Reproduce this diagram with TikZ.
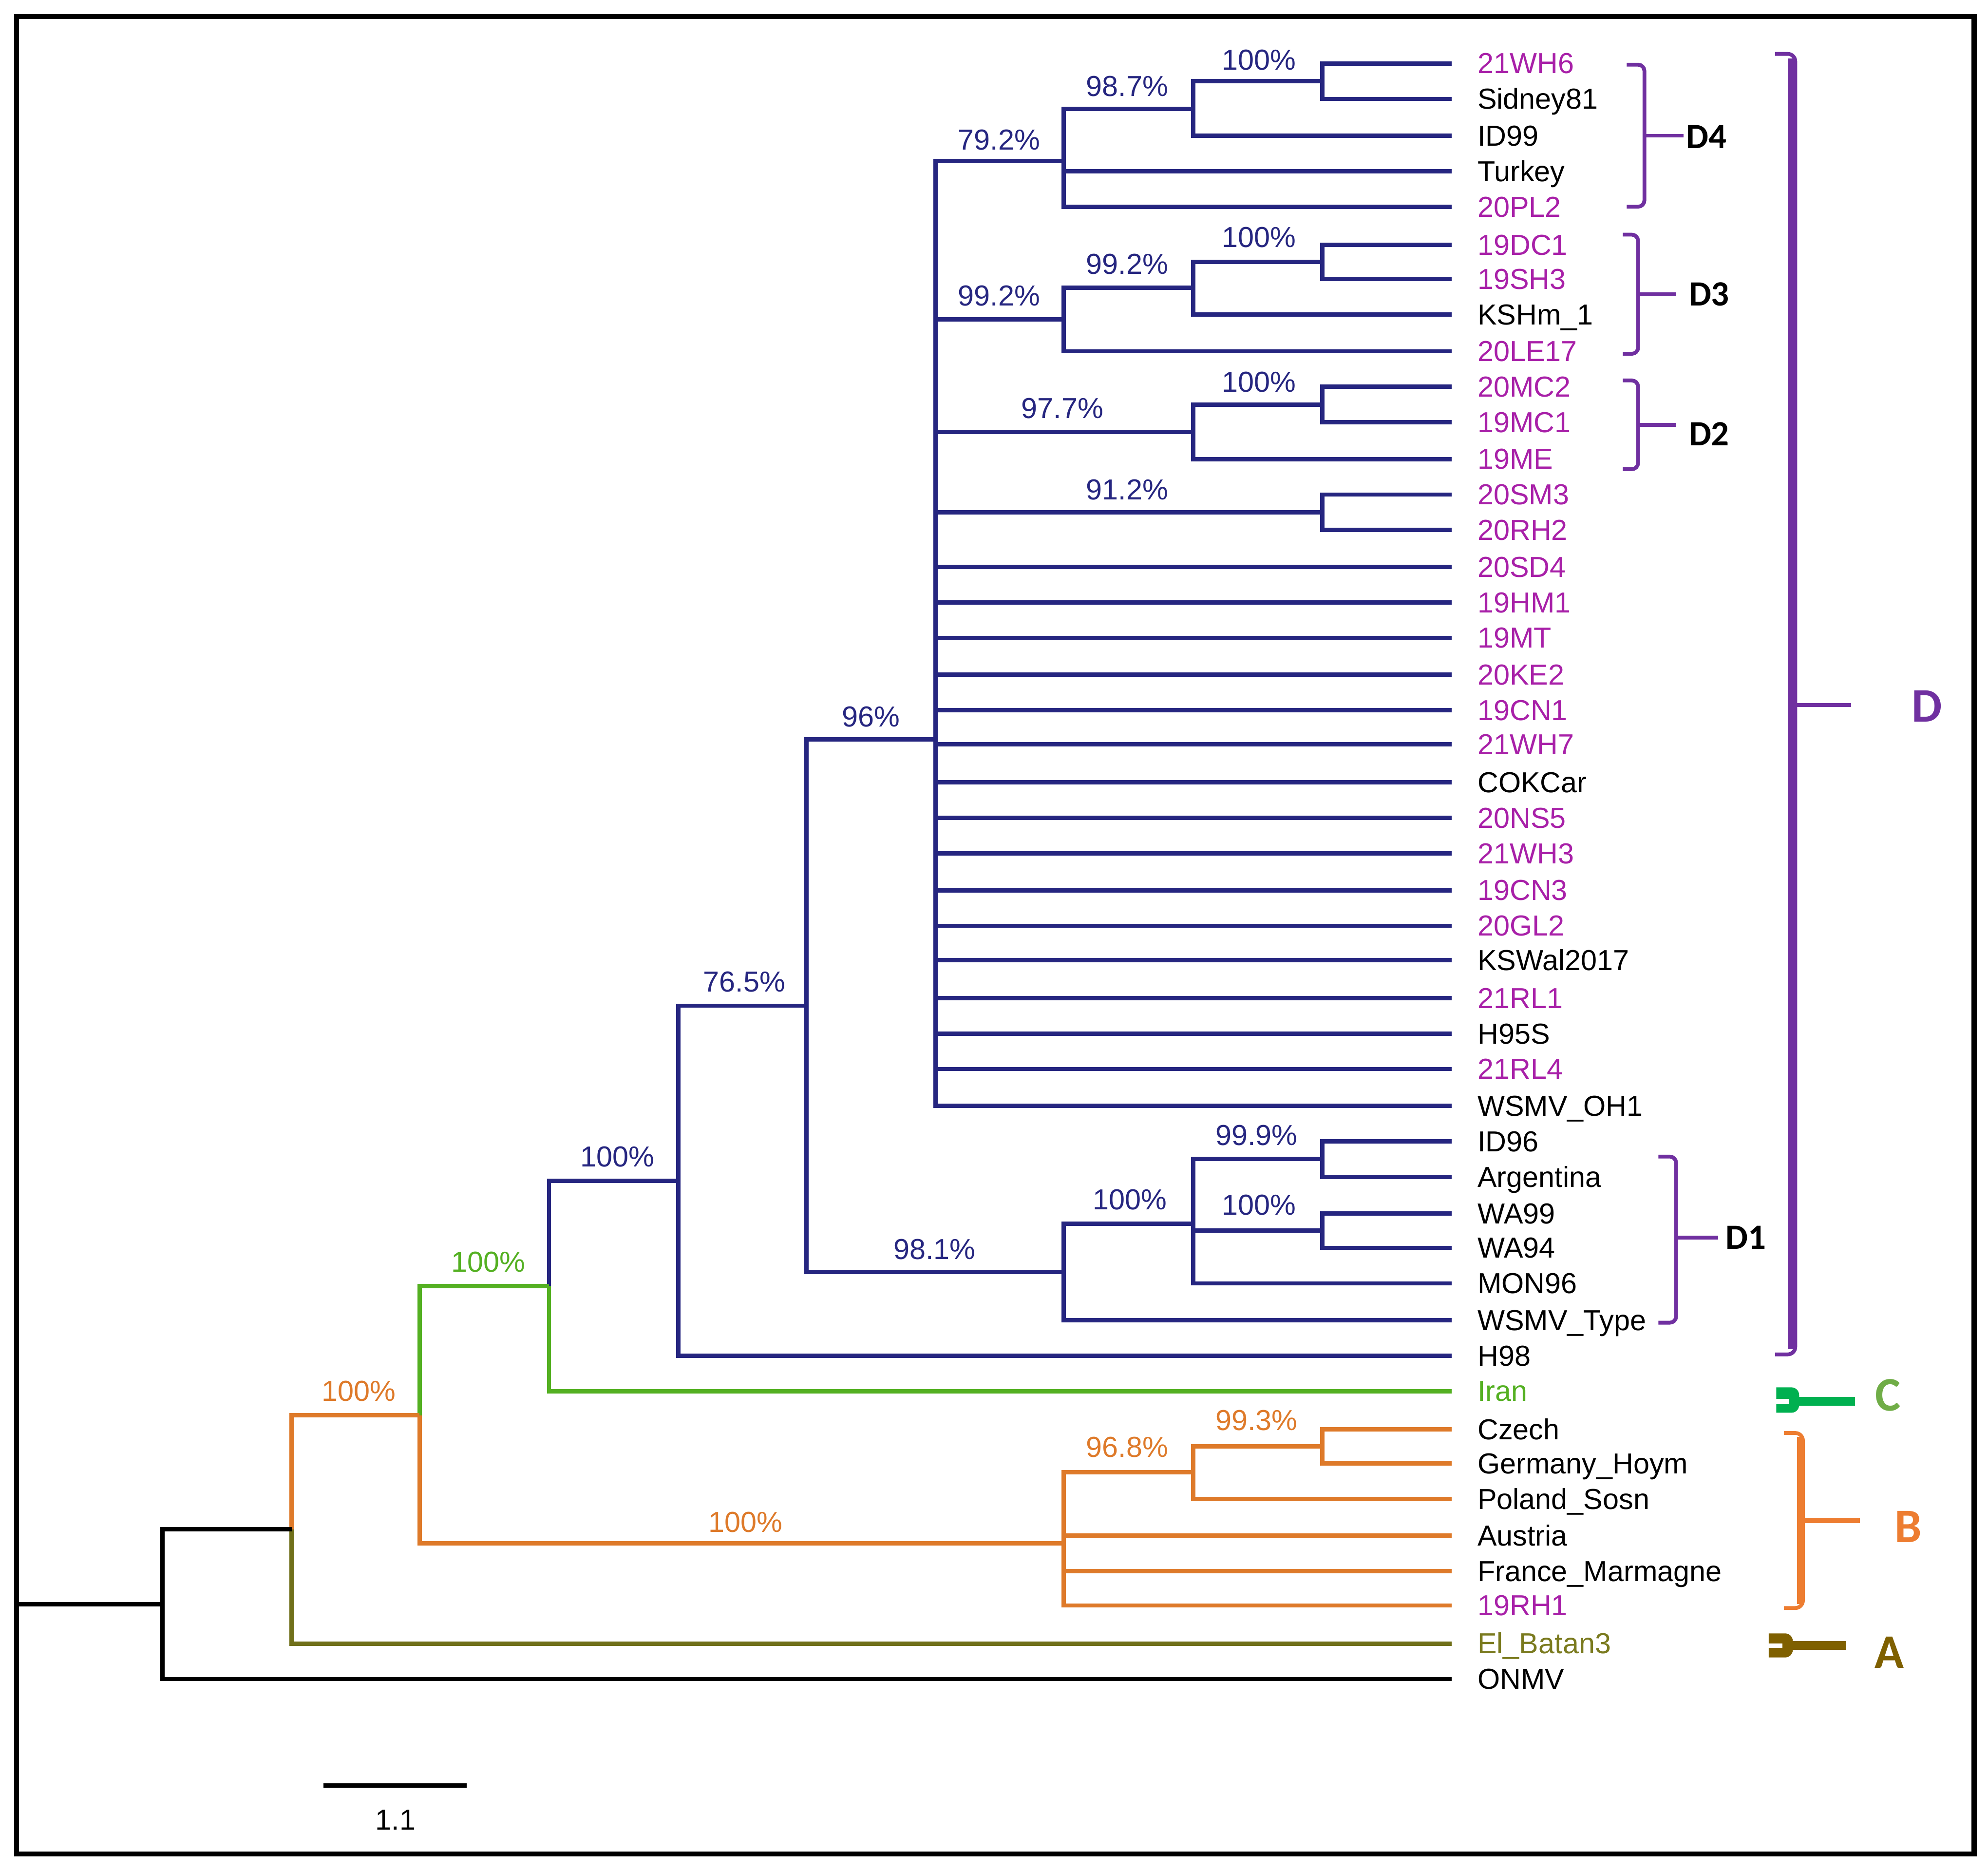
\documentclass[tikz,border=0pt]{standalone}
\usepackage{fontspec}
\setmainfont{Liberation Sans}
\newfontfamily\carl{Carlito}
\definecolor{navy}{RGB}{38,38,128}
\definecolor{mg}{RGB}{168,32,168}
\colorlet{k}{black}
\definecolor{gr}{RGB}{84,176,34}
\definecolor{orng}{RGB}{222,122,42}
\definecolor{ol}{RGB}{112,112,26}
\definecolor{oltext}{RGB}{122,122,30}
\definecolor{pu}{RGB}{112,48,160}
\definecolor{cgr}{RGB}{0,176,80}
\definecolor{clab}{RGB}{112,173,71}
\definecolor{bor}{RGB}{237,125,49}
\definecolor{abr}{RGB}{127,96,0}
\begin{document}
\begin{tikzpicture}[x=0.5pt,y=-0.5pt,
  lbl/.style={anchor=base west,inner sep=0pt,font=\fontsize{11.4}{13}\selectfont},
  pct/.style={anchor=base,inner sep=0pt,font=\fontsize{11.4}{13}\selectfont},
  brk/.style={line width=1.5pt,rounded corners=2.5pt},
  grp/.style={anchor=center,inner sep=0pt,font=\carl\bfseries\fontsize{14}{16}\selectfont},
  big/.style={anchor=center,inner sep=0pt,font=\carl\bfseries\fontsize{19}{21}\selectfont},
  edge/.style={line width=1.7pt}]
\useasboundingbox (0,0) rectangle (1568,1476);
\draw[line width=2pt] (13,13) rectangle (1557,1462);

% leaves
\foreach \i/\y/\t/\c in {0/50/21WH6/mg,1/78/Sidney81/k,2/107/ID99/k,3/135/Turkey/k,4/163/20PL2/mg,
 5/193/19DC1/mg,6/220/19SH3/mg,7/248/KSHm\_1/k,8/277/20LE17/mg,9/305/20MC2/mg,10/333/19MC1/mg,
 11/362/19ME/mg,12/390/20SM3/mg,13/418/20RH2/mg,14/447/20SD4/mg,15/475/19HM1/mg,16/503/19MT/mg,
 17/532/20KE2/mg,18/560/19CN1/mg,19/587/21WH7/mg,20/617/COKCar/k,21/645/20NS5/mg,22/673/21WH3/mg,
 23/702/19CN3/mg,24/730/20GL2/mg,25/757/KSWal2017/k,26/787/21RL1/mg,27/815/H95S/k,28/843/21RL4/mg,
 29/872/WSMV\_OH1/k,30/900/ID96/k,31/928/Argentina/k,32/957/WA99/k,33/984/WA94/k,34/1012/MON96/k,
 35/1041/WSMV\_Type/k,36/1069/H98/k,37/1097/Iran/gr,38/1127/Czech/k,39/1154/Germany\_Hoym/k,
 40/1182/Poland\_Sosn/k,41/1211/Austria/k,42/1239/France\_Marmagne/k,43/1266/19RH1/mg,
 44/1296/El\_Batan3/oltext,45/1324/ONMV/k}
 {\coordinate (l\i) at (1145,\y);
  \node[lbl,text=\c] (t\i) at (1165,\y+8) {\t};}

% internal nodes
\coordinate (a1) at (1043,64);
\coordinate (a2) at (941,86);
\coordinate (a3) at (839,127);
\coordinate (b1) at (1043,206.5);
\coordinate (b2) at (941,227);
\coordinate (b3) at (839,252);
\coordinate (c1) at (1043,319);
\coordinate (c2) at (941,340.5);
\coordinate (d1) at (1043,404);
\coordinate (e) at (738,583);
\coordinate (f1) at (1043,914);
\coordinate (f2) at (1043,970.5);
\coordinate (f3) at (941,965);
\coordinate (f4) at (839,1003);
\coordinate (g) at (636,793);
\coordinate (h) at (535,931);
\coordinate (i) at (433,1014);
\coordinate (j1) at (1043,1140.5);
\coordinate (j2) at (941,1161);
\coordinate (j3) at (839,1217);
\coordinate (kk) at (331,1116);
\coordinate (m) at (230,1206);
\coordinate (r) at (128,1265);
\coordinate (r0) at (13,1265);

% blue edges
\foreach \p/\q in {a1/l0,a1/l1,a2/a1,a2/l2,a3/a2,a3/l3,a3/l4,
  b1/l5,b1/l6,b2/b1,b2/l7,b3/b2,b3/l8,c1/l9,c1/l10,c2/c1,c2/l11,d1/l12,d1/l13,
  e/a3,e/b3,e/c2,e/d1,e/l14,e/l15,e/l16,e/l17,e/l18,e/l19,e/l20,e/l21,e/l22,e/l23,
  e/l24,e/l25,e/l26,e/l27,e/l28,e/l29,
  f1/l30,f1/l31,f2/l32,f2/l33,f3/f1,f3/f2,f3/l34,f4/f3,f4/l35,g/e,g/f4,h/g,h/l36,i/h}
  {\draw[edge,navy] (\p) |- (\q);}
% green
\draw[edge,gr] (i) |- (l37);
\draw[edge,gr] (kk) |- (i);
% orange
\foreach \p/\q in {j1/l38,j1/l39,j2/j1,j2/l40,j3/j2,j3/l41,j3/l42,j3/l43,kk/j3,m/kk}
  {\draw[edge,orng] (\p) |- (\q);}
% olive
\draw[edge,ol] (m) |- (l44);
% black
\draw[edge,black] (r) |- (m);
\draw[edge,black] (r) |- (l45);
\draw[edge,black] (r0) -- (r);

% support values
\node[pct,text=navy] (p1) at (993,47+8) {100\%};
\node[pct,text=navy] (p2) at (889,68+8) {98.7\%};
\node[pct,text=navy] (p3) at (788,110+8) {79.2\%};
\node[pct,text=navy] (p4) at (993,187+8) {100\%};
\node[pct,text=navy] (p5) at (889,208+8) {99.2\%};
\node[pct,text=navy] (p6) at (788,233+8) {99.2\%};
\node[pct,text=navy] (p7) at (993,301+8) {100\%};
\node[pct,text=navy] (p8) at (838,322+8) {97.7\%};
\node[pct,text=navy] (p9) at (889,386+8) {91.2\%};
\node[pct,text=navy] (p10) at (687,565+8) {96\%};
\node[pct,text=navy] (p11) at (587,774+8) {76.5\%};
\node[pct,text=navy] (p12) at (487,912+8) {100\%};
\node[pct,text=navy] (p13) at (737,985+8) {98.1\%};
\node[pct,text=navy] (p14) at (891,946+8) {100\%};
\node[pct,text=navy] (p15) at (991,895+8) {99.9\%};
\node[pct,text=navy] (p16) at (993,950+8) {100\%};
\node[pct,text=gr] (p17) at (385,995+8) {100\%};
\node[pct,text=orng] (p18) at (283,1097+8) {100\%};
\node[pct,text=orng] (p19) at (991,1120+8) {99.3\%};
\node[pct,text=orng] (p20) at (889,1141+8) {96.8\%};
\node[pct,text=orng] (p21) at (588,1200+8) {100\%};

% scale bar
\coordinate (s1) at (255,1408);
\coordinate (s2) at (368,1408);
\draw[edge,black] (s1) -- (s2);
\node[pct] (sl) at (312,1435+8) {1.1};

% subgroup brackets
\draw[pu,brk] (1283,51) -- (1297,51) -- (1297,163) -- (1283,163);
\draw[pu,line width=1.5pt] (1297,107) -- (1328,107);
\node[grp] (D4) at (1346,108) {D4};
\draw[pu,brk] (1280,185) -- (1292,185) -- (1292,279) -- (1280,279);
\draw[pu,line width=1.5pt] (1292,232) -- (1322,232);
\node[grp] (D3) at (1348,232) {D3};
\draw[pu,brk] (1280,300) -- (1292,300) -- (1292,370) -- (1280,370);
\draw[pu,line width=1.5pt] (1292,335) -- (1322,335);
\node[grp] (D2) at (1348,342) {D2};
\draw[pu,brk] (1308,912) -- (1322,912) -- (1322,1043) -- (1308,1043);
\draw[pu,line width=1.5pt] (1322,976) -- (1355,976);
\node[grp] (D1) at (1377,976) {D1};

% D
\draw[pu,line width=1.5pt,rounded corners=3pt] (1400,42.5) -- (1416,42.5) -- (1416,1068) -- (1400,1068);
\draw[pu,line width=3.5pt] (1413.5,46) -- (1413.5,1064);
\draw[pu,line width=1.5pt] (1416,556) -- (1460,556);
\node[big,text=pu] (D) at (1520,557) {D};
% C
\fill[cgr] (1401,1094) [rounded corners=3pt] -- (1419,1094) -- (1419,1114) [sharp corners] -- (1401,1114) -- cycle;
\fill[white] (1400,1103) rectangle (1411,1107);
\draw[cgr,line width=3.5pt] (1418,1105) -- (1463,1105);
\node[big,text=clab] (C) at (1489,1100) {C};
% B
\draw[bor,line width=1.5pt,rounded corners=3pt] (1407,1130) -- (1422,1130) -- (1422,1268) -- (1407,1268);
\draw[bor,line width=2.5pt] (1420,1133) -- (1420,1265);
\draw[bor,line width=2pt] (1422,1199) -- (1467,1199);
\node[big,text=bor] (B) at (1505,1204) {B};
% A
\fill[abr] (1395,1288) [rounded corners=3pt] -- (1414,1288) -- (1414,1307) [sharp corners] -- (1395,1307) -- cycle;
\fill[white] (1394,1296) rectangle (1406,1299.5);
\draw[abr,line width=3.5pt] (1413,1297.5) -- (1456,1297.5);
\node[big,text=abr] (A) at (1490,1303) {A};
\end{tikzpicture}
\end{document}
